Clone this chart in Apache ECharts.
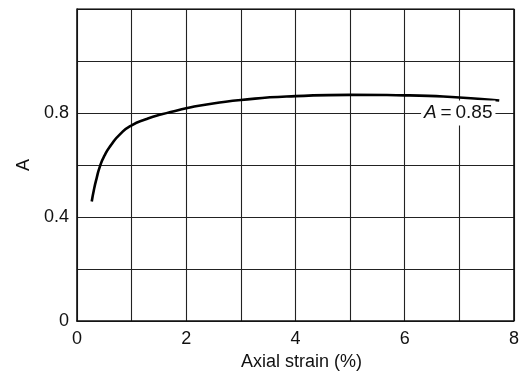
<!DOCTYPE html>
<html><head><meta charset="utf-8">
<script src="https://cdn.jsdelivr.net/npm/echarts@6/dist/echarts.min.js"></script>
<style>html,body{margin:0;padding:0;background:#fff}#c{width:522px;height:376px}</style>
</head><body><div id="c"></div>
<script>
const strain = [0.27, 0.31, 0.36, 0.42, 0.50, 0.62, 0.79, 1.0, 1.26, 1.55, 2.0, 2.23, 3, 4, 5, 6, 7, 7.73];
const aValues = [0.460, 0.505, 0.550, 0.595, 0.635, 0.676, 0.719, 0.753, 0.776, 0.795, 0.818, 0.828, 0.850, 0.865, 0.870, 0.868, 0.860, 0.848];
const xTickLabels = [0, 2, 4, 6, 8];
const yTickLabels = [0, 0.4, 0.8];
const annotation = { x: 6.98, y: 0.8, value: '0.85' };

const chart = echarts.init(document.getElementById('c'));
const font = 'Liberation Sans, Arial, sans-serif';
chart.setOption({
  animation: false,
  grid: { left: 77, right: 5, top: 9, bottom: 48 },
  xAxis: {
    type: 'value', min: 0, max: 8, interval: 1,
    name: 'Axial strain (%)', nameLocation: 'middle', nameGap: 27,
    nameTextStyle: { color: '#111', fontSize: 18, fontFamily: font, padding: [0, 0, 0, 12] },
    axisLine: { show: true, lineStyle: { color: '#111', width: 1.6 } },
    axisTick: { show: false },
    splitLine: { show: true, lineStyle: { color: '#222', width: 1.1 } },
    axisLabel: {
      color: '#111', fontSize: 18, fontFamily: font, margin: 9,
      formatter: v => xTickLabels.some(t => Math.abs(t - v) < 1e-9) ? String(v) : ''
    }
  },
  yAxis: {
    type: 'value', min: 0, max: 1.2, interval: 0.2,
    name: 'A', nameLocation: 'middle', nameGap: 43, nameRotate: 90,
    nameTextStyle: { color: '#111', fontSize: 18, fontFamily: font },
    axisLine: { show: true, lineStyle: { color: '#111', width: 1.6 } },
    axisTick: { show: false },
    splitLine: { show: true, lineStyle: { color: '#222', width: 1.1 } },
    axisLabel: {
      color: '#111', fontSize: 18, fontFamily: font, margin: 8,
      formatter: v => {
        const r = Math.round(v * 10) / 10;
        return yTickLabels.some(t => Math.abs(t - r) < 1e-9) ? String(r) : '';
      }
    }
  },
  series: [{
    type: 'line', smooth: 0.6, showSymbol: false,
    data: strain.map((x, i) => [x, aValues[i]]),
    lineStyle: { color: '#000', width: 2.6 },
    markPoint: {
      symbol: 'rect', symbolSize: 0,
      data: [{ coord: [annotation.x, annotation.y] }],
      label: {
        show: true, position: 'inside',
        formatter: '{i|A}{n|\u2009=\u2009' + annotation.value + '}',
        backgroundColor: '#fff', padding: [3, 3],
        rich: {
          i: { fontStyle: 'italic', fontSize: 19, fontFamily: font, color: '#111' },
          n: { fontSize: 19, fontFamily: font, color: '#111' }
        }
      }
    }
  }, {
    type: 'line', data: [[0, 1.2], [8, 1.2], [8, 0]], showSymbol: false, silent: true,
    lineStyle: { color: '#111', width: 1.6 }, z: 1
  }]
});
</script></body></html>
